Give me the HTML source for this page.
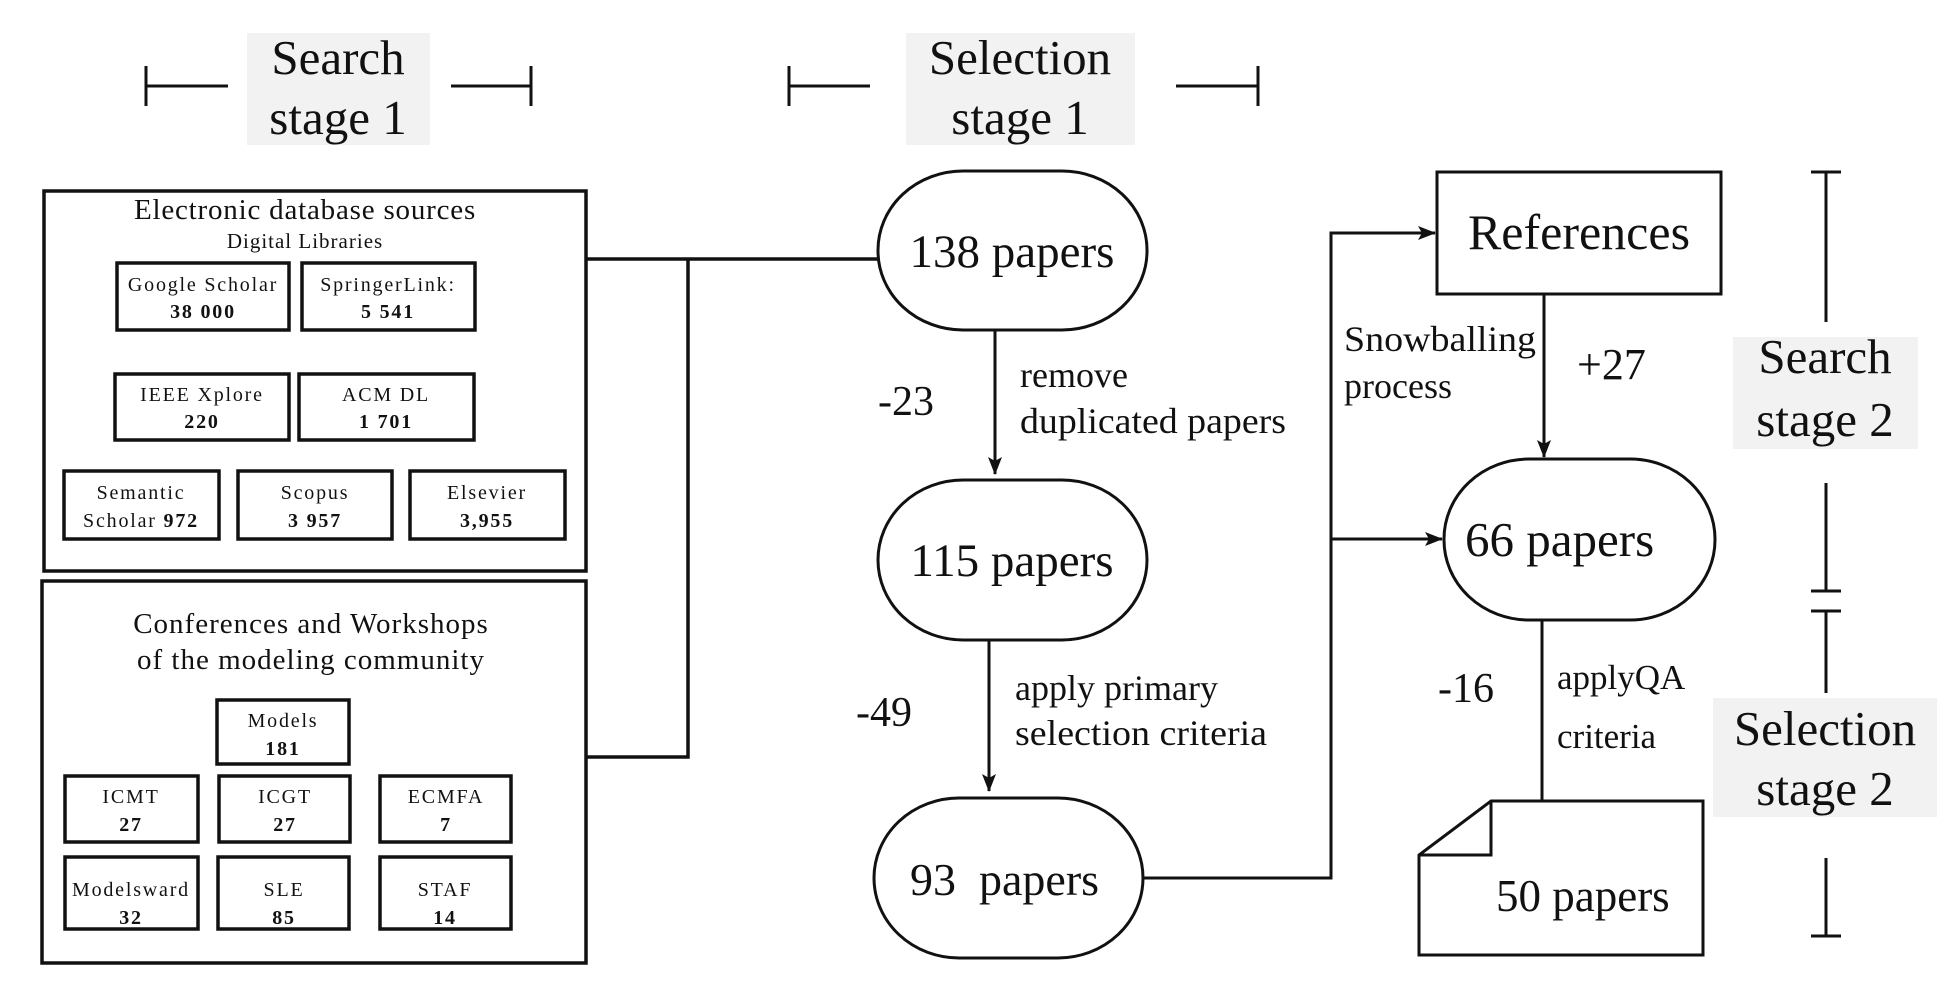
<!DOCTYPE html>
<html><head><meta charset="utf-8"><style>
html,body{margin:0;padding:0;background:#fff}
svg{display:block}
text{font-family:"Liberation Serif",serif;fill:#111}
.sb{font-size:20px;letter-spacing:1.8px;text-anchor:middle}
.b{font-weight:bold}
</style></head><body>
<svg width="1955" height="1004" viewBox="0 0 1955 1004" xmlns="http://www.w3.org/2000/svg">
<defs>
<marker id="h" markerWidth="18" markerHeight="14" refX="17" refY="7" orient="auto" markerUnits="userSpaceOnUse"><path d="M0,0 L18,7 L0,14 L4,7 Z" fill="#111"/></marker></defs>
<g stroke="#111" stroke-width="3" fill="none">
<line x1="146" y1="66" x2="146" y2="106"/><line x1="146" y1="86" x2="228" y2="86"/>
<line x1="451" y1="86" x2="531" y2="86"/><line x1="531" y1="66" x2="531" y2="106"/>
<line x1="789" y1="66" x2="789" y2="106"/><line x1="789" y1="86" x2="870" y2="86"/>
<line x1="1176" y1="86" x2="1258" y2="86"/><line x1="1258" y1="66" x2="1258" y2="106"/>
</g>
<rect x="247" y="33" width="183" height="112" fill="#f2f2f2"/>
<text x="338" y="74" font-size="49" text-anchor="middle">Search</text>
<text x="338" y="134" font-size="49" text-anchor="middle">stage 1</text>
<rect x="906" y="33" width="229" height="112" fill="#f2f2f2"/>
<text x="1020" y="74" font-size="49" text-anchor="middle">Selection</text>
<text x="1020" y="134" font-size="49" text-anchor="middle">stage 1</text>

<g stroke="#111" stroke-width="3.5" fill="none">
<rect x="44" y="191" width="542" height="380"/>
<rect x="42" y="581" width="544" height="382"/>
<rect x="117" y="263" width="172" height="67"/>
<rect x="302" y="263" width="173" height="67"/>
<rect x="115" y="374" width="174" height="66"/>
<rect x="299" y="374" width="175" height="66"/>
<rect x="64" y="471" width="155" height="68"/>
<rect x="238" y="471" width="154" height="68"/>
<rect x="410" y="471" width="155" height="68"/>
<rect x="217" y="700" width="132" height="64"/>
<rect x="65" y="776" width="133" height="66"/>
<rect x="219" y="776" width="131" height="66"/>
<rect x="380" y="776" width="131" height="66"/>
<rect x="65" y="857" width="133" height="72"/>
<rect x="218" y="857" width="131" height="72"/>
<rect x="380" y="857" width="131" height="72"/>
<polyline points="586,259 878,259"/>
<polyline points="688,259 688,757 586,757"/>
</g>
<text x="305" y="219" font-size="29" text-anchor="middle" letter-spacing="0.8">Electronic database sources</text>
<text x="305" y="248" font-size="21" text-anchor="middle" letter-spacing="1">Digital Libraries</text>
<text class="sb" x="203" y="291">Google Scholar</text><text class="sb b" x="203" y="318">38 000</text>
<text class="sb" x="388" y="291">SpringerLink:</text><text class="sb b" x="388" y="318">5 541</text>
<text class="sb" x="202" y="401">IEEE Xplore</text><text class="sb b" x="202" y="428">220</text>
<text class="sb" x="386" y="401">ACM DL</text><text class="sb b" x="386" y="428">1 701</text>
<text class="sb" x="141" y="499">Semantic</text><text class="sb" x="141" y="527">Scholar <tspan class="b">972</tspan></text>
<text class="sb" x="315" y="499">Scopus</text><text class="sb b" x="315" y="527">3 957</text>
<text class="sb" x="487" y="499">Elsevier</text><text class="sb b" x="487" y="527">3,955</text>
<text x="311" y="633" font-size="29" text-anchor="middle" letter-spacing="1">Conferences and Workshops</text>
<text x="311" y="669" font-size="29" text-anchor="middle" letter-spacing="1">of the modeling community</text>
<text class="sb" x="283" y="727">Models</text><text class="sb b" x="283" y="755">181</text>
<text class="sb" x="131" y="803">ICMT</text><text class="sb b" x="131" y="831">27</text>
<text class="sb" x="285" y="803">ICGT</text><text class="sb b" x="285" y="831">27</text>
<text class="sb" x="446" y="803">ECMFA</text><text class="sb b" x="446" y="831">7</text>
<text class="sb" x="131" y="896" letter-spacing="0.3">Modelsward</text><text class="sb b" x="131" y="924">32</text>
<text class="sb" x="284" y="896">SLE</text><text class="sb b" x="284" y="924">85</text>
<text class="sb" x="445" y="896">STAF</text><text class="sb b" x="445" y="924">14</text>

<g stroke="#111" stroke-width="3" fill="none">
<rect x="878" y="171" width="269" height="159" rx="85" ry="79"/>
<rect x="878" y="480" width="269" height="160" rx="85" ry="80"/>
<rect x="874" y="798" width="269" height="160" rx="85" ry="80"/>
<rect x="1444" y="459" width="271" height="161" rx="85" ry="80"/>
<rect x="1437" y="172" width="284" height="122"/>
<path d="M1491,801 L1703,801 L1703,955 L1419,955 L1419,855 Z"/>
<path d="M1491,801 L1491,855 L1419,855"/>
<line x1="995" y1="330" x2="995" y2="474" marker-end="url(#h)"/>
<line x1="989" y1="640" x2="989" y2="791" marker-end="url(#h)"/>
<polyline points="1143,878 1331,878 1331,233 1435,233" marker-end="url(#h)"/>
<line x1="1331" y1="539" x2="1442" y2="539" marker-end="url(#h)"/>
<line x1="1544" y1="294" x2="1544" y2="457" marker-end="url(#h)"/>
<line x1="1542" y1="620" x2="1542" y2="801"/>
<line x1="1811" y1="172" x2="1841" y2="172"/><line x1="1826" y1="172" x2="1826" y2="322"/>
<line x1="1826" y1="483" x2="1826" y2="591"/><line x1="1811" y1="591" x2="1841" y2="591"/>
<line x1="1811" y1="611" x2="1841" y2="611"/><line x1="1826" y1="611" x2="1826" y2="693"/>
<line x1="1826" y1="858" x2="1826" y2="936"/><line x1="1811" y1="936" x2="1841" y2="936"/>
</g>
<text x="1012" y="267" font-size="47" text-anchor="middle">138 papers</text>
<text x="1012" y="576" font-size="47" text-anchor="middle">115 papers</text>
<text x="910" y="895" font-size="46" xml:space="preserve">93  papers</text>
<text x="1579" y="249" font-size="50" text-anchor="middle">References</text>
<text x="1465" y="556" font-size="49">66 papers</text>
<text x="1496" y="911" font-size="45">50 papers</text>
<text x="878" y="415" font-size="42">-23</text>
<text x="856" y="726" font-size="42">-49</text>
<text x="1577" y="379" font-size="44">+27</text>
<text x="1438" y="702" font-size="42">-16</text>
<text x="1020" y="387" font-size="36">remove</text>
<text x="1020" y="433" font-size="36" textLength="266" lengthAdjust="spacingAndGlyphs">duplicated papers</text>
<text x="1015" y="700" font-size="36">apply primary</text>
<text x="1015" y="745" font-size="36" textLength="252" lengthAdjust="spacingAndGlyphs">selection criteria</text>
<text x="1344" y="351" font-size="36" textLength="192" lengthAdjust="spacingAndGlyphs">Snowballing</text>
<text x="1344" y="398" font-size="36">process</text>
<text x="1557" y="689" font-size="35">applyQA</text>
<text x="1557" y="748" font-size="35">criteria</text>
<rect x="1733" y="337" width="185" height="112" fill="#f2f2f2"/>
<text x="1825" y="373" font-size="49" text-anchor="middle">Search</text>
<text x="1825" y="436" font-size="49" text-anchor="middle">stage 2</text>
<rect x="1713" y="698" width="224" height="119" fill="#f2f2f2"/>
<text x="1825" y="745" font-size="49" text-anchor="middle">Selection</text>
<text x="1825" y="805" font-size="49" text-anchor="middle">stage 2</text>
</svg>
</body></html>
